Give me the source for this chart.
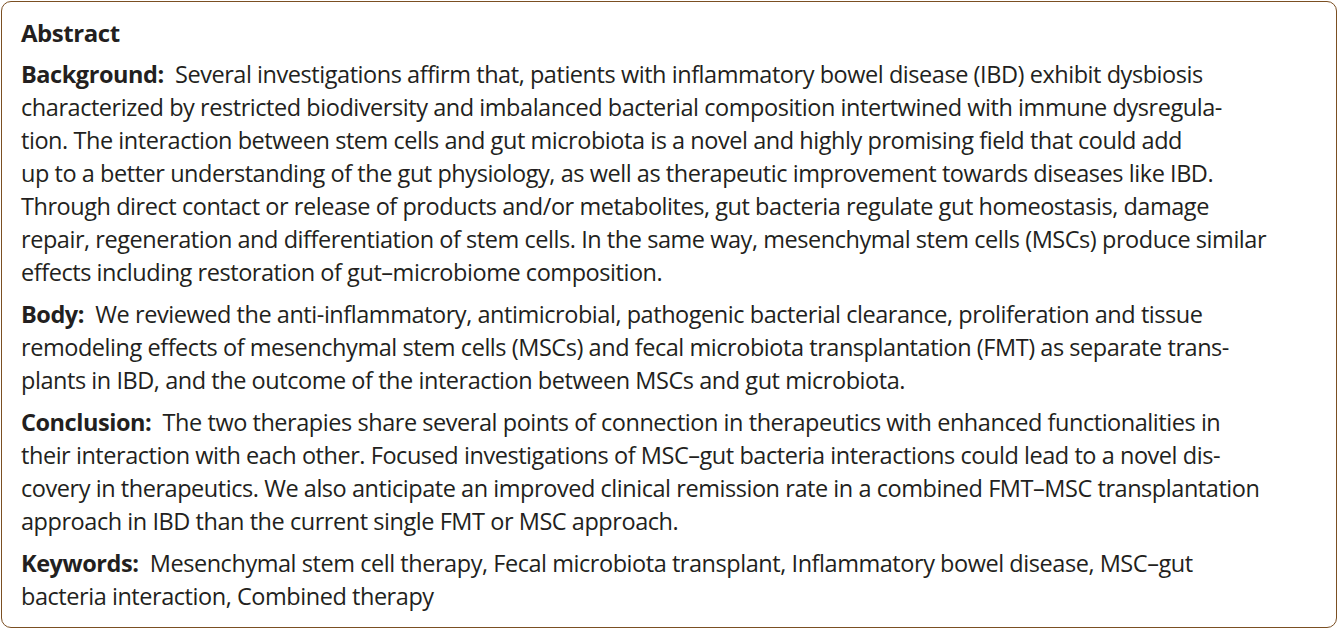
import React, { useEffect } from 'react';

const title = 'Abstract';

const sections: { label: string; lines: string[] }[] = [
  {
    label: 'Background:',
    lines: [
      'Several investigations affirm that, patients with inflammatory bowel disease (IBD) exhibit dysbiosis',
      'characterized by restricted biodiversity and imbalanced bacterial composition intertwined with immune dysregula-',
      'tion. The interaction between stem cells and gut microbiota is a novel and highly promising field that could add',
      'up to a better understanding of the gut physiology, as well as therapeutic improvement towards diseases like IBD.',
      'Through direct contact or release of products and/or metabolites, gut bacteria regulate gut homeostasis, damage',
      'repair, regeneration and differentiation of stem cells. In the same way, mesenchymal stem cells (MSCs) produce similar',
      'effects including restoration of gut\u2013microbiome composition.',
    ],
  },
  {
    label: 'Body:',
    lines: [
      'We reviewed the anti-inflammatory, antimicrobial, pathogenic bacterial clearance, proliferation and tissue',
      'remodeling effects of mesenchymal stem cells (MSCs) and fecal microbiota transplantation (FMT) as separate trans-',
      'plants in IBD, and the outcome of the interaction between MSCs and gut microbiota.',
    ],
  },
  {
    label: 'Conclusion:',
    lines: [
      'The two therapies share several points of connection in therapeutics with enhanced functionalities in',
      'their interaction with each other. Focused investigations of MSC\u2013gut bacteria interactions could lead to a novel dis-',
      'covery in therapeutics. We also anticipate an improved clinical remission rate in a combined FMT\u2013MSC transplantation',
      'approach in IBD than the current single FMT or MSC approach.',
    ],
  },
  {
    label: 'Keywords:',
    lines: [
      'Mesenchymal stem cell therapy, Fecal microbiota transplant, Inflammatory bowel disease, MSC\u2013gut',
      'bacteria interaction, Combined therapy',
    ],
  },
];

const App: React.FC = () => {
  useEffect(() => {
    document.body.style.margin = '0';
  }, []);

  return (
    <div
      style={{
        position: 'absolute', left: 1, top: 1, width: 1336, height: 627,
        border: '1.5px solid #7b4f22', borderRadius: 10, boxSizing: 'border-box',
        fontFamily: '"Open Sans", sans-serif', fontSize: 23.5, color: '#231f20',
        padding: '14px 0 0 19px', letterSpacing: '-0.45px', lineHeight: '33px',
      }}
    >
      <div style={{ fontWeight: 700, fontSize: 24, marginBottom: 9 }}>{title}</div>
      {sections.map((s) => (
        <div key={s.label} style={{ marginBottom: 9, whiteSpace: 'nowrap' }}>
          {s.lines.map((l, i) => (
            <div key={i}>
              {i === 0 && <b>{s.label}</b>}
              {i === 0 ? '\u00a0\u00a0' : ''}
              {l}
            </div>
          ))}
        </div>
      ))}
    </div>
  );
};

export default App;
